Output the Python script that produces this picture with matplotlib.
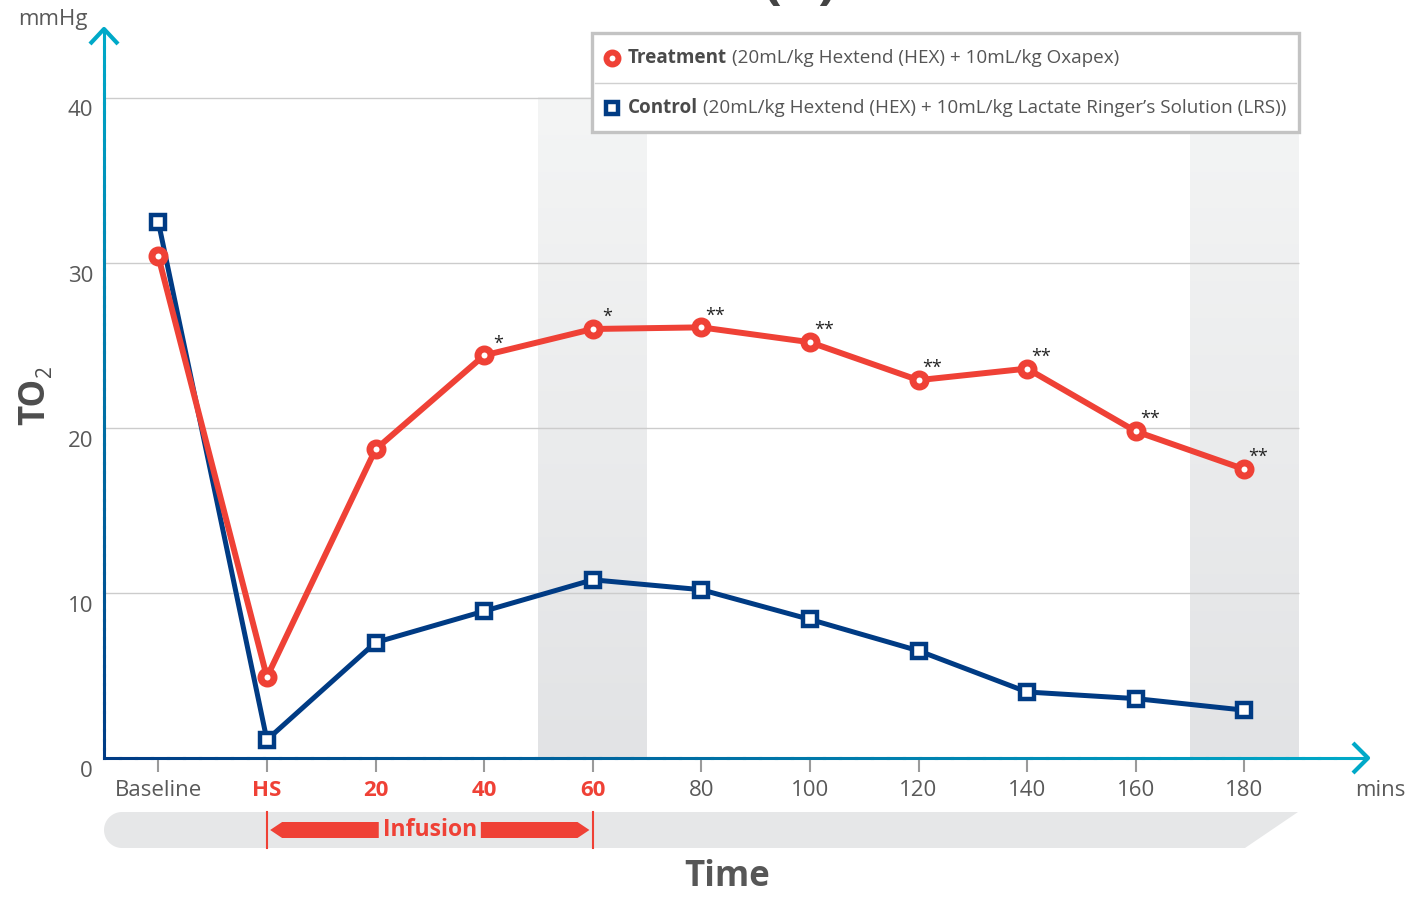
import numpy as np
import matplotlib
matplotlib.use('Agg')
import matplotlib.pyplot as plt
from matplotlib.collections import LineCollection
from matplotlib.colors import LinearSegmentedColormap, to_rgb
from matplotlib.patches import Polygon, Rectangle
from matplotlib.lines import Line2D
from matplotlib.transforms import Affine2D, blended_transform_factory

plt.rcParams['font.family'] = ['Open Sans', 'DejaVu Sans']

# ---- data ----
labels = ['Baseline', 'HS', '20', '40', '60', '80', '100', '120', '140', '160', '180']
treatment = [30.4, 4.9, 18.7, 24.4, 26.0, 26.1, 25.2, 22.9, 23.6, 19.8, 17.5]
control = [32.5, 1.1, 7.0, 8.9, 10.8, 10.2, 8.4, 6.5, 4.0, 3.6, 2.9]
stars = ['', '', '', '*', '*', '**', '**', '**', '**', '**', '**']
infusion_labels = ['HS', '20', '40', '60']
shaded = [(3.5, 4.5), (9.5, 10.5)]
yticks = [0, 10, 20, 30, 40]

RED = '#ef4136'
NAVY = '#003b84'
CYAN = '#00a9c8'
GRAY = '#595959'

W, H = 1408, 897
fig = plt.figure(figsize=(W / 100, H / 100), dpi=100)
ax = fig.add_axes([104 / W, 1 - 758 / H, (1372 - 104) / W, (758 - 28) / H])
ax.axis('off')

# pixel coords (top-left origin) -> figure
pxT = Affine2D().scale(1 / W, -1 / H).translate(0, 1) + fig.transFigure
x = np.arange(len(labels))
x0, x1 = -0.5, len(labels) - 0.5

def yd(py):
    # pixel row -> data y
    return (758 - py) / 16.5

# shaded bands (light on top, darker at bottom)
cm = LinearSegmentedColormap.from_list('band', ['#f4f5f5', '#e2e3e5'])
grad = np.linspace(0, 1, 256).reshape(-1, 1)
for a, b in shaded:
    ax.imshow(grad, extent=(a, b, 0, yticks[-1]), origin='upper', cmap=cm,
              aspect='auto', zorder=0)

ax.set_xlim(x0, x0 + (1372 - 104) / 108.6)
ax.set_ylim(0, (758 - 28) / 16.5)

# grid lines
ax.hlines(yticks[1:], x0, x1, color='#cccccc', lw=1, zorder=1)

# axis lines with colour gradient
def grad_line(xs, ys, c0, c1, n=80):
    xx = np.linspace(xs[0], xs[1], n)
    yy = np.linspace(ys[0], ys[1], n)
    pts = np.column_stack([xx, yy]).reshape(-1, 1, 2)
    segs = np.concatenate([pts[:-1], pts[1:]], axis=1)
    t = np.linspace(0, 1, n - 1)[:, None]
    cols = (1 - t) * np.array(to_rgb(c0)) + t * np.array(to_rgb(c1))
    lc = LineCollection(segs, colors=cols, lw=2.2, clip_on=False, zorder=2,
                        capstyle='projecting')
    ax.add_collection(lc)

grad_line((x0, x0), (0, yd(29)), NAVY, CYAN)
grad_line((x0, (1367 - 158) / 108.6), (0, 0), NAVY, CYAN)

# arrow chevrons
fig.add_artist(Line2D([90, 104, 118], [44, 29, 44], color=CYAN, lw=3,
                      transform=pxT, solid_capstyle='butt'))
fig.add_artist(Line2D([1353, 1368, 1353], [743, 758, 773], color=CYAN, lw=3,
                      transform=pxT, solid_capstyle='butt'))

# x ticks and labels
ax.vlines(x, yd(760), yd(772), color='#9a9a9a', lw=1.5, clip_on=False)
for i, lab in enumerate(labels):
    if lab in infusion_labels:
        ax.text(i, yd(790), lab, ha='center', va='center', fontsize=16,
                color=RED, fontweight='bold', clip_on=False)
    else:
        ax.text(i, yd(790), lab, ha='center', va='center', fontsize=16,
                color=GRAY, clip_on=False)

# y tick labels
for v in yticks:
    ax.annotate(str(v), (x0, v), xytext=(-11, -13), textcoords='offset pixels',
                ha='right', va='center', fontsize=16, color=GRAY)

# series
ax.plot(x, control, color=NAVY, lw=3.6, marker='s', ms=10.4, mew=3.2,
        mfc='white', mec=NAVY, zorder=3, clip_on=False)
ax.plot(x, treatment, color=RED, lw=4.3, marker='o', ms=9.4, mew=5,
        mfc='white', mec=RED, zorder=4, clip_on=False)

for i, s in enumerate(stars):
    if s:
        ax.annotate(s, (i, treatment[i]), xytext=(14, 12), textcoords='offset pixels',
                    ha='center', va='center', fontsize=13, color='#222222')

# axis titles
fig.text(53, 20, 'mmHg', transform=pxT, ha='center', va='center', fontsize=16, color=GRAY)
fig.text(1380, 790, 'mins', transform=pxT, ha='center', va='center', fontsize=16, color=GRAY)
fig.text(35, 401, 'TO', transform=pxT, ha='center', va='center', rotation=90,
         fontsize=25, fontweight='bold', color='#4d4d4d')
fig.text(46, 371, '2', transform=pxT, ha='center', va='center', rotation=90,
         fontsize=15, color='#4d4d4d')
fig.text(727, 877, 'Time', transform=pxT, ha='center', va='center',
         fontsize=25, fontweight='bold', color='#575757')
fig.text(800, -3, '(B)', transform=pxT, ha='center', va='baseline',
         fontsize=40, fontweight='bold', color='#444444')

# bottom bar with infusion arrow
ang = np.linspace(np.pi / 2, 3 * np.pi / 2, 30)
bar = [(122 + 18 * np.cos(a), 830 - 18 * np.sin(a)) for a in ang]
bar += [(1245, 848), (1298, 812)]
fig.add_artist(Polygon(bar, closed=True, transform=pxT, facecolor='#e6e7e8',
                       edgecolor='none', zorder=0))

bT = blended_transform_factory(ax.transData, pxT)
s0 = labels.index(infusion_labels[0])
s1 = labels.index(infusion_labels[-1])
mid = (s0 + s1) / 2
for xi in (s0, s1):
    ax.add_line(Line2D([xi, xi], [812, 848], color=RED, lw=1.5, transform=bT,
                       clip_on=False))
tip, head, gap = 0.03, 0.11, 0.47
left = [(s0 + tip, 830), (s0 + tip + head, 822), (mid - gap, 822),
        (mid - gap, 838), (s0 + tip + head, 838)]
right = [(s1 - tip, 830), (s1 - tip - head, 822), (mid + gap, 822),
         (mid + gap, 838), (s1 - tip - head, 838)]
for poly in (left, right):
    ax.add_patch(Polygon(poly, closed=True, transform=bT, facecolor=RED,
                         edgecolor='none', clip_on=False))
ax.text(mid, 830, 'Infusion', transform=bT, ha='center', va='center',
        fontsize=16.5, fontweight='bold', color=RED, clip_on=False)

# legend box
fig.add_artist(Rectangle((592, 33), 707, 99, transform=pxT, facecolor='white',
                         edgecolor='#c3c3c3', lw=2.4, zorder=5))
fig.add_artist(Line2D([595, 1296], [83, 83], color='#d0d0d0', lw=1,
                      transform=pxT, zorder=6))
fig.add_artist(Line2D([612], [58], marker='o', ms=8.6, mew=4.3, mfc='white',
                      mec=RED, transform=pxT, zorder=6))
fig.add_artist(Line2D([612], [108], marker='s', ms=8.3, mew=3.2, mfc='white',
                      mec=NAVY, transform=pxT, zorder=6))

r = fig.canvas.get_renderer()
entries = [('Treatment', '(20mL/kg Hextend (HEX) + 10mL/kg Oxapex)', 58),
           ('Control', '(20mL/kg Hextend (HEX) + 10mL/kg Lactate Ringer\u2019s Solution (LRS))', 108)]
for bold, rest, yy in entries:
    t1 = fig.text(628, yy, bold, transform=pxT, ha='left', va='center',
                  fontsize=13.6, fontweight='bold', color='#4a4a4a', zorder=6)
    bb = t1.get_window_extent(r)
    fig.text(bb.x1 + 5, yy, rest, transform=pxT, ha='left', va='center',
             fontsize=13.6, color='#555555', zorder=6)

fig.savefig('out.png', dpi=100)
